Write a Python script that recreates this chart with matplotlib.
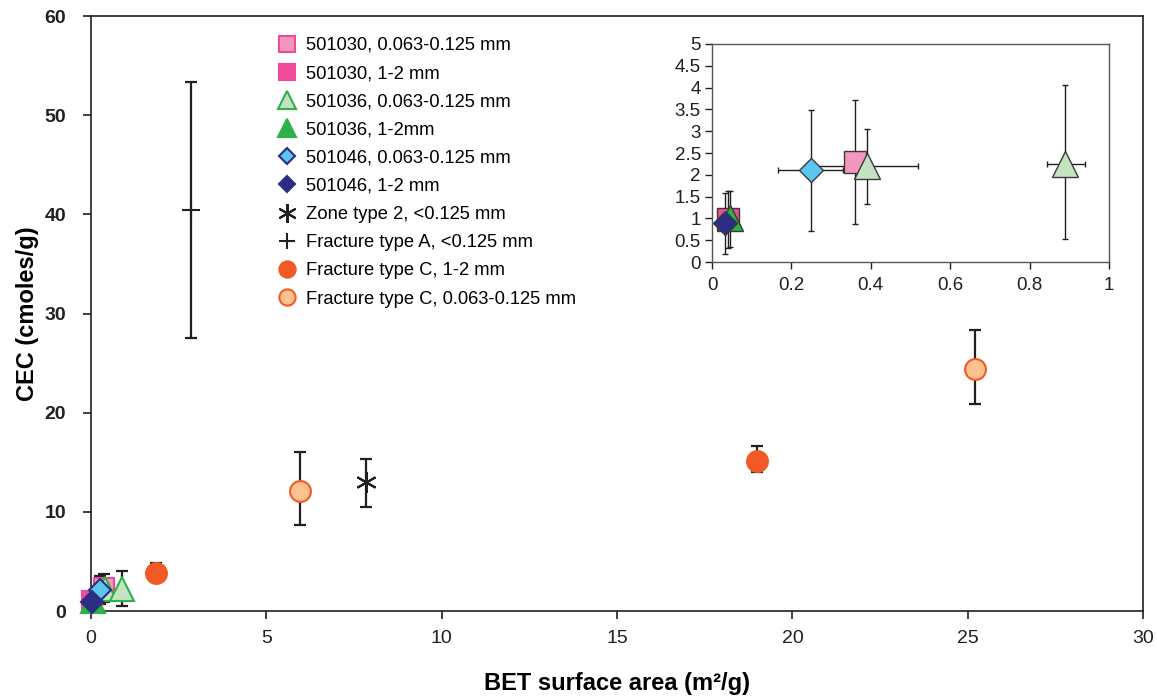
import matplotlib.pyplot as plt
from matplotlib.lines import Line2D
from matplotlib.ticker import FuncFormatter

plt.rcParams['font.family'] = ['Liberation Sans', 'DejaVu Sans']

# data: x, y, y low/high, x low/high
a_fine_x, a_fine_y = [0.36], [2.3]
a_fine_ylo, a_fine_yhi = [0.87], [3.72]

a_coarse_x, a_coarse_y = [0.04], [0.98]
a_coarse_ylo, a_coarse_yhi = [0.33], [1.62]

b_fine_x, b_fine_y = [0.39, 0.89], [2.2, 2.25]
b_fine_ylo, b_fine_yhi = [1.32, 0.52], [3.04, 4.07]
b_fine_xlo, b_fine_xhi = [0.26, 0.843], [0.52, 0.94]

b_coarse_x, b_coarse_y = [0.045], [1.0]
b_coarse_ylo, b_coarse_yhi = [0.34], [1.64]

c_fine_x, c_fine_y = [0.25], [2.1]
c_fine_ylo, c_fine_yhi = [0.71], [3.49]
c_fine_xlo, c_fine_xhi = [0.165], [0.33]

c_coarse_x, c_coarse_y = [0.033], [0.9]
c_coarse_ylo, c_coarse_yhi = [0.18], [1.58]

zone_x, zone_y = [7.84], [13.0]
zone_ylo, zone_yhi = [10.5], [15.3]

fa_x, fa_y = [2.85], [40.4]
fa_ylo, fa_yhi = [27.5], [53.3]

fc_coarse_x, fc_coarse_y = [1.85, 19.0], [3.83, 15.1]
fc_coarse_ylo, fc_coarse_yhi = [3.3, 14.0], [4.84, 16.6]

fc_fine_x, fc_fine_y = [5.96, 25.2], [12.1, 24.4]
fc_fine_ylo, fc_fine_yhi = [8.67, 20.9], [16.0, 28.3]

labels = ['501030, 0.063-0.125 mm', '501030, 1-2 mm',
          '501036, 0.063-0.125 mm', '501036, 1-2mm',
          '501046, 0.063-0.125 mm', '501046, 1-2 mm',
          'Zone type 2, <0.125 mm', 'Fracture type A, <0.125 mm',
          'Fracture type C, 1-2 mm', 'Fracture type C, 0.063-0.125 mm']

PINK, LPINK = '#EE4B9B', '#F397BC'
GREEN, LGREEN = '#2DB24A', '#C4E3C3'
NAVY, LBLUE = '#2B2E83', '#5CC6F0'
ORANGE, LORANGE = '#F15A24', '#FDC28E'
BAR = '#231F20'


def err(y, lo, hi):
    return [[v - l for v, l in zip(y, lo)], [h - v for v, h in zip(y, hi)]]


def xerr_of(x, lo, hi):
    return [[v - l for v, l in zip(x, lo)], [h - v for v, h in zip(x, hi)]]


# (x, y, yerr, xerr, marker, size, face, edge)
series = [
    (a_fine_x, a_fine_y, err(a_fine_y, a_fine_ylo, a_fine_yhi), None, 's', 15, LPINK, PINK),
    (a_coarse_x, a_coarse_y, err(a_coarse_y, a_coarse_ylo, a_coarse_yhi), None, 's', 15, PINK, PINK),
    (b_fine_x, b_fine_y, err(b_fine_y, b_fine_ylo, b_fine_yhi),
     xerr_of(b_fine_x, b_fine_xlo, b_fine_xhi), '^', 17, LGREEN, GREEN),
    (b_coarse_x, b_coarse_y, err(b_coarse_y, b_coarse_ylo, b_coarse_yhi), None, '^', 17, GREEN, GREEN),
    (c_fine_x, c_fine_y, err(c_fine_y, c_fine_ylo, c_fine_yhi),
     xerr_of(c_fine_x, c_fine_xlo, c_fine_xhi), 'D', 11, LBLUE, NAVY),
    (c_coarse_x, c_coarse_y, err(c_coarse_y, c_coarse_ylo, c_coarse_yhi), None, 'D', 11, NAVY, NAVY),
    (zone_x, zone_y, err(zone_y, zone_ylo, zone_yhi), None, (6, 2, 0), 15, BAR, BAR),
    (fa_x, fa_y, err(fa_y, fa_ylo, fa_yhi), None, '+', 13, BAR, BAR),
    (fc_coarse_x, fc_coarse_y, err(fc_coarse_y, fc_coarse_ylo, fc_coarse_yhi), None, 'o', 15, ORANGE, ORANGE),
    (fc_fine_x, fc_fine_y, err(fc_fine_y, fc_fine_ylo, fc_fine_yhi), None, 'o', 15, LORANGE, ORANGE),
]

fig = plt.figure(figsize=(11.57, 6.98), dpi=100)
ax = fig.add_axes([0.0787, 0.1246, 0.9093, 0.8524])

for x, y, ye, xe, m, ms, fc, ec in series:
    ax.errorbar(x, y, yerr=ye, fmt='none', ecolor=BAR, elinewidth=1.6, capsize=4.5,
                capthick=1.6, zorder=2, clip_on=False)
    ax.plot(x, y, linestyle='none', marker=m, markersize=ms, markerfacecolor=fc,
            markeredgecolor=ec, markeredgewidth=1.5, zorder=3, clip_on=False)

ax.set_xlim(0, 30)
ax.set_ylim(0, 60)
ax.set_xticks(range(0, 31, 5))
ax.set_yticks(range(0, 61, 10))
for s in ax.spines.values():
    s.set_linewidth(1.2)
    s.set_color('#231F20')
ax.tick_params(direction='out', length=6, width=1.2, labelsize=14, colors='#231F20')
ax.tick_params(axis='y', pad=12)
ax.tick_params(axis='x', pad=8)
for t in ax.get_yticklabels():
    t.set_fontweight('bold')
ax.set_xlabel('BET surface area (m²/g)', fontsize=17, fontweight='bold', labelpad=18)
ax.set_ylabel('CEC (cmoles/g)', fontsize=17, fontweight='bold', labelpad=4)

# legend
handles = []
for (x, y, ye, xe, m, ms, fc, ec), lab in zip(series, labels):
    lms = ms * 0.78 if m not in ('+', (6, 2, 0)) else ms * 0.9
    handles.append(Line2D([], [], linestyle='none', marker=m, markersize=lms,
                          markerfacecolor=fc, markeredgecolor=ec, markeredgewidth=1.5))
fig.legend(handles, labels, loc='upper left', bbox_to_anchor=(278 / 1157, 1 - 37 / 698),
           frameon=False, fontsize=13.2, labelspacing=0.61, handlelength=1.0,
           handletextpad=0.5, borderaxespad=0, borderpad=0)

# inset
ins = fig.add_axes([0.6154, 0.6246, 0.3431, 0.3124])
for x, y, ye, xe, m, ms, fc, ec in series[:6]:
    ins.errorbar(x, y, yerr=ye, xerr=xe, fmt='none', ecolor=BAR, elinewidth=1.0,
                 capsize=2.5, capthick=1.0, zorder=2)
    ins.plot(x, y, linestyle='none', marker=m, markersize=ms * 1.1, markerfacecolor=fc,
             markeredgecolor='#3A3A3A', markeredgewidth=1.0, zorder=3)
ins.set_xlim(0, 1)
ins.set_ylim(0, 5)
ins.set_xticks([0, 0.2, 0.4, 0.6, 0.8, 1])
ins.set_yticks([i * 0.5 for i in range(11)])
fmt = FuncFormatter(lambda v, p: '{:g}'.format(v))
ins.xaxis.set_major_formatter(fmt)
ins.yaxis.set_major_formatter(fmt)
for s in ins.spines.values():
    s.set_linewidth(1.0)
    s.set_color('#555555')
ins.tick_params(direction='out', length=5, width=1.0, labelsize=13.5, colors='#231F20', pad=3)
ins.tick_params(axis='x', pad=6)

fig.savefig('out.png', dpi=100)
